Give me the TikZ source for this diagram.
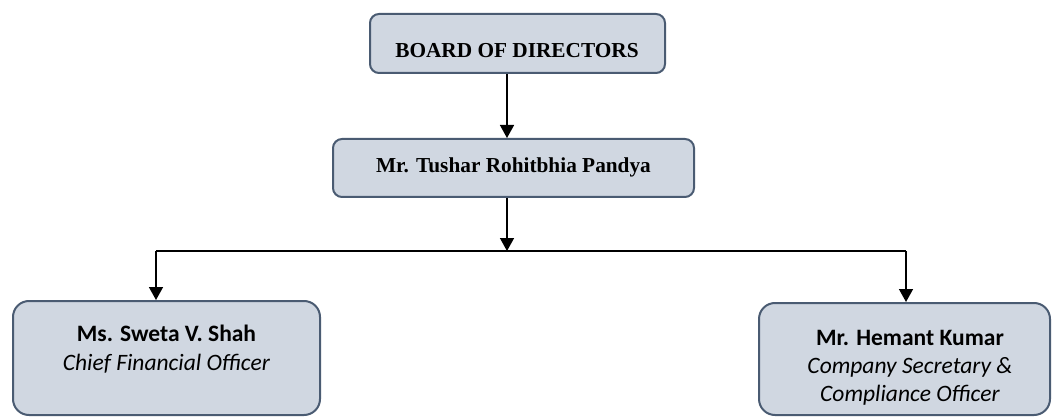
\documentclass[tikz,border=0pt]{standalone}
\usepackage{fontspec}
\setmainfont{Liberation Serif}
\newfontfamily\calfont{Carlito}
\usetikzlibrary{arrows.meta}
\definecolor{boxfill}{HTML}{D0D7E1}
\definecolor{boxline}{HTML}{4A5B72}
\tikzset{
  topbox/.style={draw=boxline, fill=boxfill, line width=2pt, rounded corners=9pt, inner sep=0pt},
  botbox/.style={draw=boxline, fill=boxfill, line width=2pt, rounded corners=16pt, inner sep=0pt},
  toptext/.style={font=\fontsize{21.3}{24}\selectfont\bfseries, inner sep=0pt, anchor=base},
  bottext/.style={font=\calfont\fontsize{23.5}{28}\selectfont, inner sep=0pt, anchor=base},
  arr/.style={line width=1.5pt, -{Triangle[width=14pt,length=13pt]}},
  ln/.style={line width=1.5pt}
}
\begin{document}
\begin{tikzpicture}[x=1pt,y=-1pt]
\useasboundingbox (0,0) rectangle (1053,417);
\node[topbox, minimum width=295pt, minimum height=59pt] (board) at (517.5,43.5) {};
\node[toptext] (boardtxt) at (517,57.3) {BOARD OF DIRECTORS};
\node[topbox, minimum width=361pt, minimum height=58pt] (tushar) at (513.5,168) {};
\node[toptext] (tushartxt) at (513.5,173) {Mr. Tushar Rohitbhia Pandya};
\node[botbox, minimum width=307pt, minimum height=114pt] (sweta) at (166.5,358) {};
\node[bottext] (sweta1) at (166.5,341.7) {\textbf{Ms. Sweta V. Shah}};
\node[bottext] (sweta2) at (166.5,370) {\textit{Chief Financial Officer}};
\node[botbox, minimum width=291pt, minimum height=112pt] (hemant) at (904.5,359) {};
\node[bottext] (hemant1) at (910,345) {\textbf{Mr. Hemant Kumar}};
\node[bottext] (hemant2) at (910,373.3) {\textit{Company Secretary \&}};
\node[bottext] (hemant3) at (910,401.7) {\textit{Compliance Officer}};
\coordinate (top) at (507,73);
\coordinate (junction) at (507,251);
\coordinate (lx) at (156,251);
\coordinate (rx) at (906,251);
\draw[arr] (board.south -| top) -- (tushar.north -| top);
\draw[arr] (tushar.south -| junction) -- (junction);
\draw[ln] (lx) -- (rx);
\draw[arr] (lx) -- (sweta.north -| lx);
\draw[arr] (rx) -- (hemant.north -| rx);
\end{tikzpicture}
\end{document}
